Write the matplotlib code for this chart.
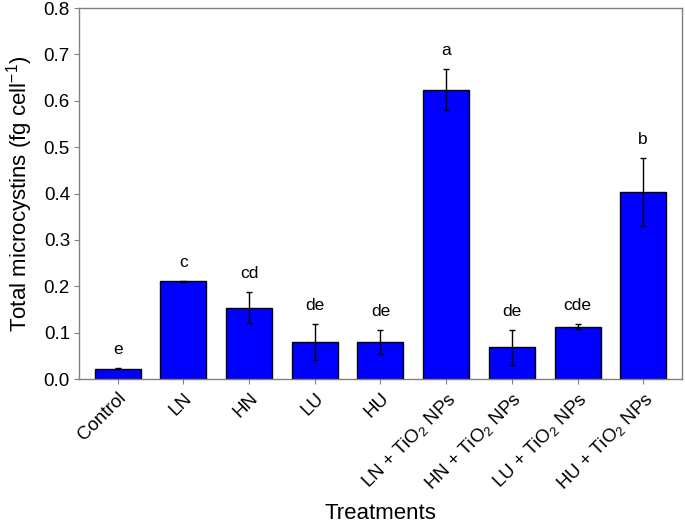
import numpy as np
import matplotlib
matplotlib.use("Agg")
import matplotlib.pyplot as plt

plt.rcParams['font.family'] = ['Liberation Sans', 'DejaVu Sans']
plt.rcParams['mathtext.fontset'] = 'custom'
plt.rcParams['mathtext.rm'] = 'Liberation Sans'
plt.rcParams['mathtext.it'] = 'Liberation Sans:italic'

treatments = ['Control', 'LN', 'HN', 'LU', 'HU',
              'LN + TiO$_2$ NPs', 'HN + TiO$_2$ NPs',
              'LU + TiO$_2$ NPs', 'HU + TiO$_2$ NPs']
means = [0.022, 0.211, 0.154, 0.080, 0.080, 0.624, 0.068, 0.113, 0.403]
errors = [0.001, 0.001, 0.033, 0.038, 0.025, 0.045, 0.038, 0.006, 0.073]
letters = ['e', 'c', 'cd', 'de', 'de', 'a', 'de', 'cde', 'b']

fig = plt.figure(figsize=(6.85, 5.23), dpi=100)
ax = fig.add_axes([0.1153, 0.2753, 0.8803, 0.7094])

x = np.arange(len(treatments))
ax.bar(x, means, width=0.7, color='#0000FF', edgecolor='black', linewidth=1.0,
       yerr=errors, error_kw=dict(ecolor='black', elinewidth=1.0, capsize=2.5, capthick=1.0))

for xi, m, e, lab in zip(x, means, errors, letters):
    ax.annotate(lab, (xi, m + e), xytext=(0, 8), textcoords='offset points',
                ha='center', va='bottom', fontsize=12.5)

ax.set_xlim(-0.59, len(treatments) - 0.41)
ax.set_ylim(0, 0.8)
ax.set_yticks(np.arange(0, 0.81, 0.1))
ax.set_yticklabels(['%.1f' % v for v in np.arange(0, 0.81, 0.1)])
ax.set_xticks(x)
ax.set_xticklabels(treatments, rotation=45, ha='right', rotation_mode='anchor')

for s in ax.spines.values():
    s.set_color('#808080')
    s.set_linewidth(1.0)
ax.tick_params(axis='both', direction='out', length=3.5, color='#808080', labelsize=13.5, pad=3)
ax.tick_params(axis='x', labelsize=13.5, pad=4)

ax.set_ylabel('Total microcystins (fg cell$^{-1}$)', fontsize=16, labelpad=6)
ax.set_xlabel('Treatments', fontsize=16)
ax.xaxis.set_label_coords(0.5, -0.333)

fig.savefig('out.png', dpi=100)
